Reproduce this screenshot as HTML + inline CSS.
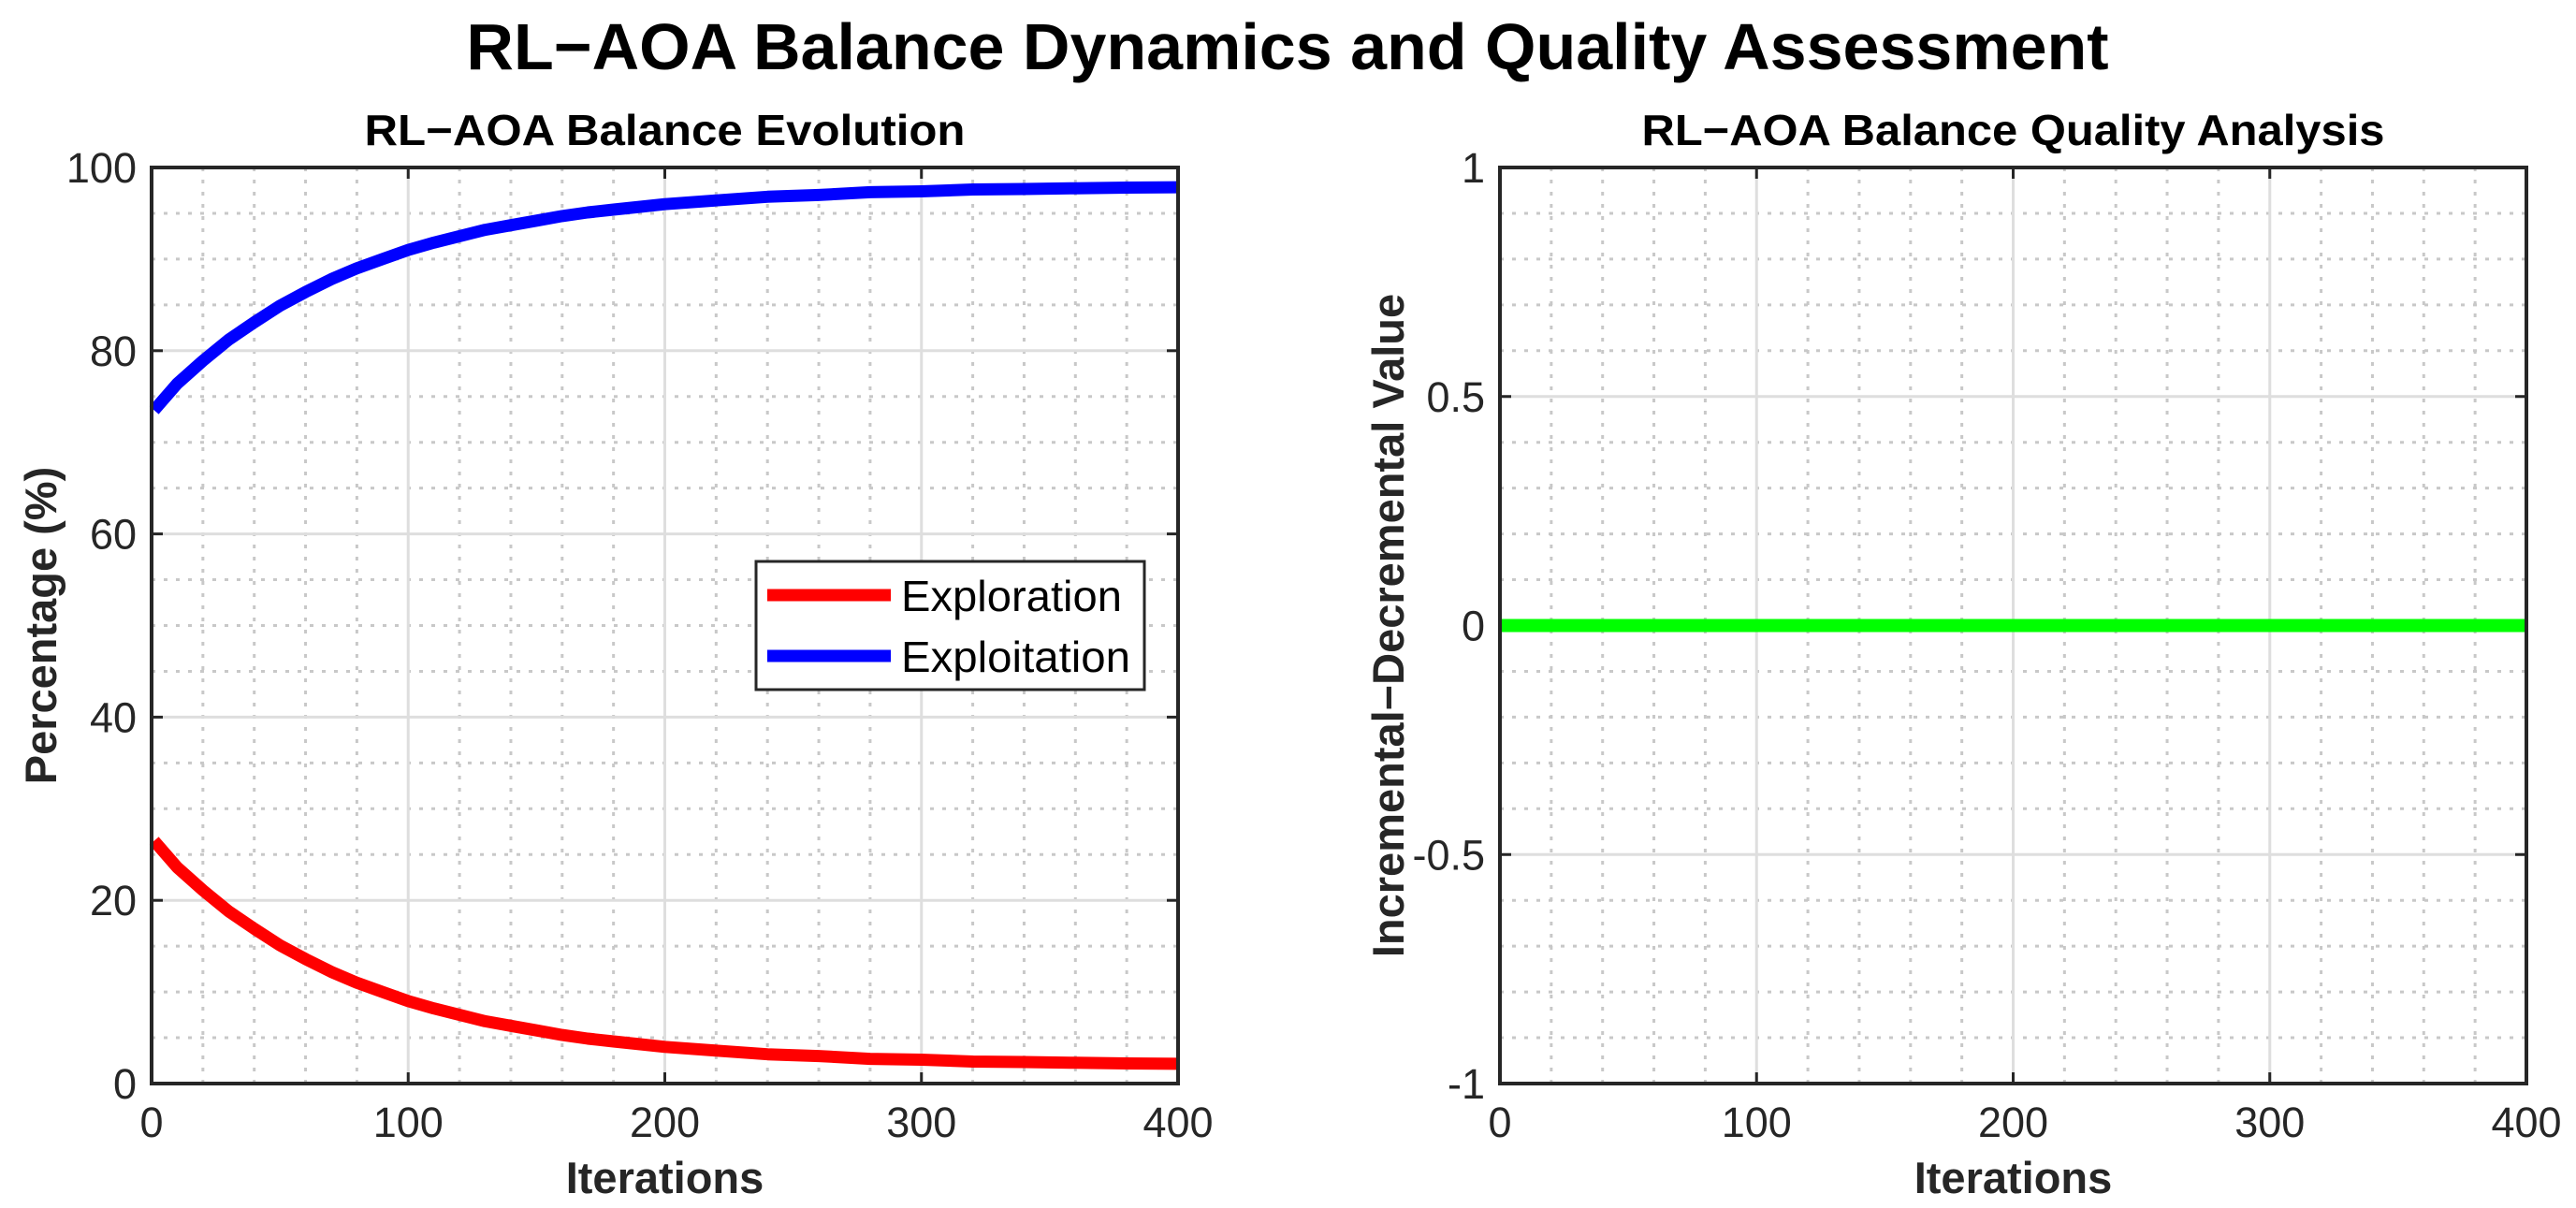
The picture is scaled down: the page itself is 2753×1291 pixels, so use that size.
<!DOCTYPE html>
<html><head><meta charset="utf-8"><style>
html,body{margin:0;padding:0;background:#fff;}
svg{display:block;font-family:"Liberation Sans",Arial,sans-serif;}
</style></head><body>
<svg id="fig" width="2753" height="1291" viewBox="0 0 2753 1291" xmlns="http://www.w3.org/2000/svg">
<text x="1376" y="74" text-anchor="middle" font-size="70" font-weight="bold" fill="#000">RL−AOA Balance Dynamics and Quality Assessment</text>
<g id="ax1"></g>
<g id="ax2"></g>
</svg>
<script>
const iterations = [1,10,20,30,40,50,60,70,80,90,100,110,120,130,140,150,160,170,180,190,200,220,240,260,280,300,320,340,360,380,400];
const exploration = [26.5,23.6,21.1,18.8,16.9,15.1,13.6,12.2,11.0,10.0,9.0,8.2,7.5,6.8,6.3,5.8,5.3,4.9,4.6,4.3,4.0,3.6,3.2,3.0,2.7,2.6,2.4,2.35,2.27,2.2,2.16];
const exploitation = [73.5,76.4,78.9,81.2,83.1,84.9,86.4,87.8,89.0,90.0,91.0,91.8,92.5,93.2,93.7,94.2,94.7,95.1,95.4,95.7,96.0,96.4,96.8,97.0,97.3,97.4,97.6,97.65,97.73,97.8,97.84];
const qualityX = [0,400];
const qualityValues = [0,0];
const xTicks1 = [0,100,200,300,400];
const yTicks1 = [0,20,40,60,80,100];
const yTickLabels1 = ["0","20","40","60","80","100"];
const xTicks2 = [0,100,200,300,400];
const yTicks2 = [-1,-0.5,0,0.5,1];
const yTickLabels2 = ["-1","-0.5","0","0.5","1"];

const NS="http://www.w3.org/2000/svg";
function mk(parent,tag,attrs,text){const e=document.createElementNS(NS,tag);for(const k in attrs)e.setAttribute(k,attrs[k]);if(text!==undefined)e.textContent=text;parent.appendChild(e);return e;}

function drawAxes(g,L,R,T,B,xmin,xmax,ymin,ymax,xt,yt,ytl,xMinorStep,yMinorStep,title,titleLen,ylabel,ylabelX){
  const sx=v=>L+(v-xmin)/(xmax-xmin)*(R-L);
  const sy=v=>B-(v-ymin)/(ymax-ymin)*(B-T);
  for(let v=xmin;v<=xmax+1e-9;v+=xMinorStep){
    if(xt.some(t=>Math.abs(t-v)<1e-9))continue;
    const l=mk(g,'line',{x1:sx(v),x2:sx(v),y1:T,y2:B,stroke:'#c8c8c8','stroke-width':3,'stroke-dasharray':'4 9'});
    
    
  }
  for(let i=0;ymin+i*yMinorStep<=ymax+1e-9;i++){
    const v=ymin+i*yMinorStep;
    if(yt.some(t=>Math.abs(t-v)<1e-9))continue;
    const l=mk(g,'line',{x1:L,x2:R,y1:sy(v),y2:sy(v),stroke:'#c8c8c8','stroke-width':3,'stroke-dasharray':'4 9'});
    
    
  }
  xt.forEach(v=>{
    const l=mk(g,'line',{x1:sx(v),x2:sx(v),y1:T,y2:B,stroke:'#dedede','stroke-width':3});
    
    
    const tk=mk(g,'line',{x1:sx(v),x2:sx(v),y1:B,y2:B-12,stroke:'#262626','stroke-width':3});
    
    
    const tk2=mk(g,'line',{x1:sx(v),x2:sx(v),y1:T,y2:T+12,stroke:'#262626','stroke-width':3});
    
    
    const t=mk(g,'text',{x:sx(v),y:1215,'text-anchor':'middle','font-size':45,fill:'#262626'},String(v));
    
    
  });
  yt.forEach((v,i)=>{
    const l=mk(g,'line',{x1:L,x2:R,y1:sy(v),y2:sy(v),stroke:'#dedede','stroke-width':3});
    
    
    const tk=mk(g,'line',{x1:L,x2:L+12,y1:sy(v),y2:sy(v),stroke:'#262626','stroke-width':3});
    
    
    const tk2=mk(g,'line',{x1:R,x2:R-12,y1:sy(v),y2:sy(v),stroke:'#262626','stroke-width':3});
    
    
    const t=mk(g,'text',{x:L-16,y:sy(v)+16,'text-anchor':'end','font-size':45,fill:'#262626'},ytl[i]);
    
    
  });
  const tt=mk(g,'text',{x:(L+R)/2,y:155,'text-anchor':'middle','font-size':46,'font-weight':'bold',fill:'#000',textLength:titleLen,lengthAdjust:'spacingAndGlyphs'},title);
  
  
  const xl=mk(g,'text',{x:(L+R)/2,y:1275,'text-anchor':'middle','font-size':47,'font-weight':'bold',fill:'#262626'},'Iterations');
  
  
  const yl=mk(g,'text',{x:0,y:0,'text-anchor':'middle','font-size':47,'font-weight':'bold',fill:'#262626',transform:`translate(${ylabelX},${(T+B)/2}) rotate(-90)`},ylabel);
  
  
  return {sx,sy};
}
function pathFrom(xs,ys,sx,sy){return xs.map((x,i)=>(i?'L':'M')+sx(x).toFixed(1)+','+sy(ys[i]).toFixed(1)).join(' ');}
function frame(g,L,R,T,B){
  const r=mk(g,'rect',{x:L,y:T,width:R-L,height:B-T,fill:'none',stroke:'#262626','stroke-width':4});
  
  
}

const g1=document.getElementById('ax1');
const L1=162,R1=1259,T=179,B=1158;
const a1=drawAxes(g1,L1,R1,T,B,0,400,0,100,xTicks1,yTicks1,yTickLabels1,20,5,'RL−AOA Balance Evolution',642,'Percentage (%)',60);
const pr=mk(g1,'path',{d:pathFrom(iterations,exploration,a1.sx,a1.sy),fill:'none',stroke:'#ff0000','stroke-width':13,'stroke-linejoin':'round'});


const pb=mk(g1,'path',{d:pathFrom(iterations,exploitation,a1.sx,a1.sy),fill:'none',stroke:'#0000ff','stroke-width':13,'stroke-linejoin':'round'});


frame(g1,L1,R1,T,B);
const lg=mk(g1,'g',{});


mk(lg,'rect',{x:808,y:600,width:415,height:137,fill:'#fff',stroke:'#262626','stroke-width':3});
const le1=mk(lg,'line',{x1:820,x2:952,y1:636,y2:636,stroke:'#ff0000','stroke-width':13});


const lt1=mk(lg,'text',{x:963,y:653,'font-size':46,fill:'#000',textLength:236,lengthAdjust:'spacingAndGlyphs'},'Exploration');


const le2=mk(lg,'line',{x1:820,x2:952,y1:701,y2:701,stroke:'#0000ff','stroke-width':13});


const lt2=mk(lg,'text',{x:963,y:718,'font-size':46,fill:'#000',textLength:245,lengthAdjust:'spacingAndGlyphs'},'Exploitation');



const g2=document.getElementById('ax2');
const L2=1603,R2=2700;
const a2=drawAxes(g2,L2,R2,T,B,0,400,-1,1,xTicks2,yTicks2,yTickLabels2,20,0.1,'RL−AOA Balance Quality Analysis',794,'Incremental−Decremental Value',1500);
const pg=mk(g2,'path',{d:pathFrom(qualityX,qualityValues,a2.sx,a2.sy),fill:'none',stroke:'#00ff00','stroke-width':14});


frame(g2,L2,R2,T,B);
</script>
</body></html>
